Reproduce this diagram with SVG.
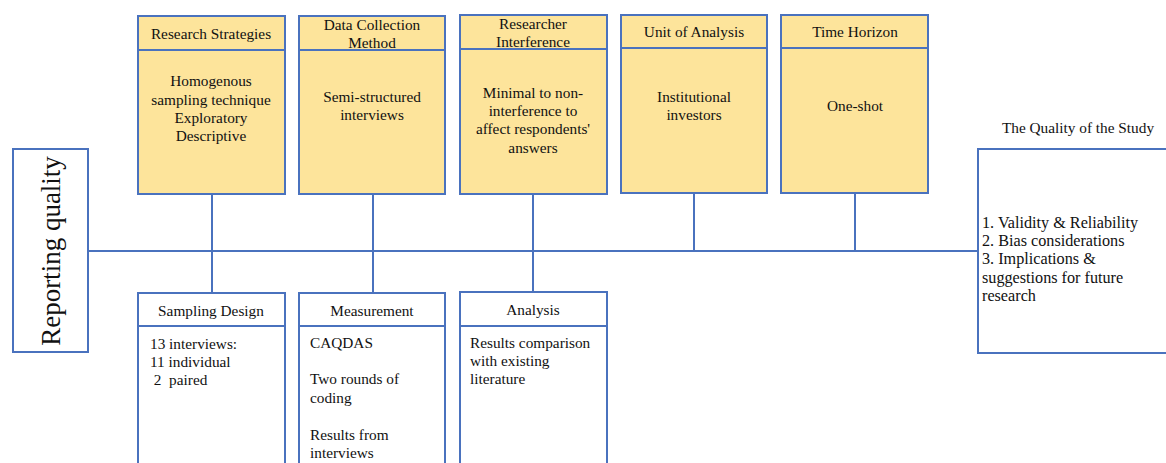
<svg xmlns="http://www.w3.org/2000/svg" width="1166" height="463" viewBox="0 0 1166 463">
<style>
.box{fill:#fde49b;stroke:#4a72be;stroke-width:2}
.wbox{fill:#ffffff;stroke:#4a72be;stroke-width:2}
.ln{stroke:#4a72be;stroke-width:2;fill:none}
text{font-family:"Liberation Serif","Times New Roman",serif;font-size:15.3px;fill:#111}
.c{text-anchor:middle}
.q{font-size:16.2px}
</style>
<rect width="1166" height="463" fill="#ffffff"/>
<g id="connectors">
<line class="ln" x1="89" y1="251" x2="978" y2="251"/>
<line class="ln" x1="212" y1="194" x2="212" y2="293"/>
<line class="ln" x1="373" y1="194" x2="373" y2="293"/>
<line class="ln" x1="533" y1="194" x2="533" y2="292"/>
<line class="ln" x1="694" y1="193" x2="694" y2="251"/>
<line class="ln" x1="855" y1="193" x2="855" y2="251"/>
</g>
<g id="reporting-quality">
<rect class="wbox" x="13" y="149" width="75" height="203"/>
<text transform="translate(60,251) rotate(-90)" class="c" style="font-size:27px">Reporting quality</text>
</g>
<g id="research-strategies">
<rect class="box" x="138" y="16" width="147" height="178"/>
<line class="ln" x1="138" y1="50" x2="285" y2="50"/>
<text class="c" x="211" y="39">Research Strategies</text>
<text class="c" x="211" y="86">Homogenous</text>
<text class="c" x="211" y="105">sampling technique</text>
<text class="c" x="211" y="123">Exploratory</text>
<text class="c" x="211" y="141">Descriptive</text>
</g>
<g id="data-collection-method">
<rect class="box" x="299" y="16" width="146" height="178"/>
<line class="ln" x1="299" y1="50" x2="445" y2="50"/>
<text class="c" x="372" y="30">Data Collection</text>
<text class="c" x="372" y="48">Method</text>
<text class="c" x="372" y="102">Semi-structured</text>
<text class="c" x="372" y="120">interviews</text>
</g>
<g id="researcher-interference">
<rect class="box" x="460" y="15" width="147" height="179"/>
<line class="ln" x1="460" y1="49" x2="607" y2="49"/>
<text class="c" x="533" y="29">Researcher</text>
<text class="c" x="533" y="47">Interference</text>
<text class="c" x="533" y="98">Minimal to non-</text>
<text class="c" x="533" y="116">interference to</text>
<text class="c" x="533" y="134">affect respondents'</text>
<text class="c" x="533" y="153">answers</text>
</g>
<g id="unit-of-analysis">
<rect class="box" x="621" y="15" width="146" height="178"/>
<line class="ln" x1="621" y1="48" x2="767" y2="48"/>
<text class="c" x="694" y="37">Unit of Analysis</text>
<text class="c" x="694" y="102">Institutional</text>
<text class="c" x="694" y="120">investors</text>
</g>
<g id="time-horizon">
<rect class="box" x="781" y="15" width="147" height="178"/>
<line class="ln" x1="781" y1="48" x2="928" y2="48"/>
<text class="c" x="855" y="37">Time Horizon</text>
<text class="c" x="855" y="111">One-shot</text>
</g>
<g id="sampling-design">
<rect class="wbox" x="138" y="293" width="147" height="180"/>
<line class="ln" x1="138" y1="326" x2="285" y2="326"/>
<text class="c" x="211" y="316">Sampling Design</text>
<text x="150" y="349">13 interviews:</text>
<text x="150" y="367">11 individual</text>
<text x="150" y="385" xml:space="preserve"> 2  paired</text>
</g>
<g id="measurement">
<rect class="wbox" x="299" y="293" width="146" height="180"/>
<line class="ln" x1="299" y1="326" x2="445" y2="326"/>
<text class="c" x="372" y="316">Measurement</text>
<text x="310" y="348">CAQDAS</text>
<text x="310" y="384">Two rounds of</text>
<text x="310" y="403">coding</text>
<text x="310" y="440">Results from</text>
<text x="310" y="458">interviews</text>
</g>
<g id="analysis">
<rect class="wbox" x="460" y="292" width="147" height="181"/>
<line class="ln" x1="460" y1="326" x2="607" y2="326"/>
<text class="c" x="533" y="315">Analysis</text>
<text x="470" y="348">Results comparison</text>
<text x="470" y="366">with existing</text>
<text x="470" y="384">literature</text>
</g>
<g id="quality-of-study">
<text class="c" x="1078" y="133">The Quality of the Study</text>
<rect class="wbox" x="978" y="149" width="200" height="204"/>
<text class="q" x="982" y="228">1. Validity &amp; Reliability</text>
<text class="q" x="982" y="246">2. Bias considerations</text>
<text class="q" x="982" y="264">3. Implications &amp;</text>
<text class="q" x="982" y="283">suggestions for future</text>
<text class="q" x="982" y="301">research</text>
</g>
</svg>
